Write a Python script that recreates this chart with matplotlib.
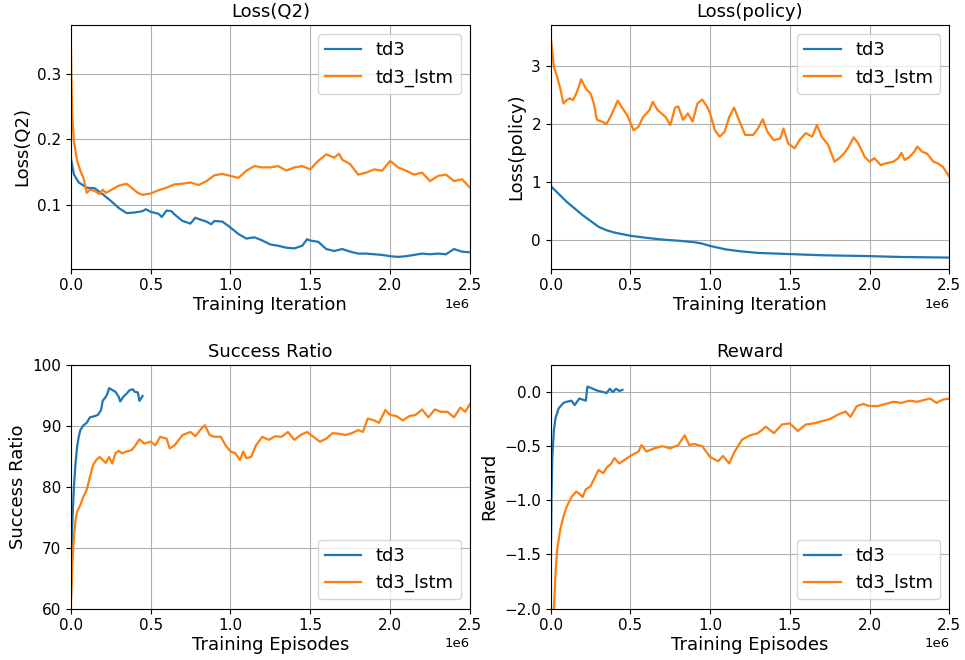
import numpy as np
import matplotlib
matplotlib.use("Agg")
import matplotlib.pyplot as plt

# x values are in millions of steps / episodes

# Loss(Q2)
q2_td3_x = [0, 0.02, 0.05, 0.1, 0.15, 0.2, 0.25, 0.3, 0.35, 0.4, 0.45, 0.47, 0.5, 0.55, 0.57,
            0.6, 0.63, 0.65, 0.7, 0.75, 0.78, 0.8, 0.85, 0.88, 0.9, 0.95, 1.0, 1.05, 1.1, 1.15,
            1.2, 1.25, 1.3, 1.35, 1.4, 1.45, 1.48, 1.5, 1.55, 1.6, 1.65, 1.7, 1.75, 1.8, 1.85,
            1.9, 1.95, 2.0, 2.05, 2.1, 2.15, 2.2, 2.25, 2.3, 2.35, 2.4, 2.45, 2.5]
q2_td3_y = [0.172, 0.146, 0.134, 0.126, 0.125, 0.116, 0.106, 0.095, 0.087, 0.088, 0.090, 0.093,
            0.089, 0.086, 0.081, 0.091, 0.090, 0.085, 0.075, 0.071, 0.080, 0.078, 0.074, 0.070,
            0.075, 0.074, 0.065, 0.055, 0.048, 0.050, 0.045, 0.039, 0.037, 0.034, 0.033, 0.037,
            0.047, 0.045, 0.043, 0.032, 0.029, 0.032, 0.028, 0.025, 0.025, 0.024, 0.023, 0.021,
            0.020, 0.021, 0.023, 0.025, 0.024, 0.025, 0.024, 0.032, 0.028, 0.027]
q2_lstm_x = [0, 0.005, 0.01, 0.02, 0.04, 0.06, 0.08, 0.1, 0.12, 0.15, 0.18, 0.2, 0.22, 0.25,
             0.3, 0.35, 0.38, 0.42, 0.45, 0.5, 0.55, 0.6, 0.65, 0.7, 0.75, 0.8, 0.85, 0.9, 0.95,
             1.0, 1.05, 1.1, 1.15, 1.2, 1.25, 1.3, 1.35, 1.4, 1.45, 1.5, 1.55, 1.6, 1.65, 1.68,
             1.7, 1.75, 1.8, 1.85, 1.9, 1.95, 2.0, 2.05, 2.1, 2.15, 2.2, 2.25, 2.3, 2.35, 2.4,
             2.45, 2.5]
q2_lstm_y = [0.358, 0.284, 0.233, 0.197, 0.167, 0.152, 0.141, 0.118, 0.123, 0.121, 0.116, 0.123,
             0.118, 0.122, 0.129, 0.132, 0.126, 0.118, 0.115, 0.117, 0.122, 0.126, 0.131, 0.132,
             0.134, 0.130, 0.136, 0.145, 0.147, 0.144, 0.141, 0.152, 0.159, 0.157, 0.157, 0.159,
             0.152, 0.157, 0.159, 0.154, 0.167, 0.177, 0.172, 0.178, 0.169, 0.162, 0.146, 0.149,
             0.154, 0.152, 0.167, 0.157, 0.152, 0.146, 0.149, 0.136, 0.144, 0.146, 0.136, 0.139,
             0.126]

# Loss(policy)
pol_td3_x = [0, 0.1, 0.2, 0.3, 0.35, 0.4, 0.5, 0.6, 0.7, 0.8, 0.9, 0.95, 1.0, 1.1, 1.2, 1.3,
             1.5, 1.7, 2.0, 2.2, 2.5]
pol_td3_y = [0.93, 0.66, 0.43, 0.23, 0.17, 0.13, 0.075, 0.04, 0.01, -0.01, -0.035, -0.06, -0.10,
             -0.16, -0.195, -0.22, -0.24, -0.26, -0.275, -0.29, -0.30]
pol_lstm_x = [0, 0.02, 0.04, 0.06, 0.08, 0.1, 0.12, 0.14, 0.16, 0.18, 0.19, 0.22, 0.25, 0.27,
              0.29, 0.32, 0.35, 0.38, 0.42, 0.45, 0.48, 0.52, 0.55, 0.58, 0.62, 0.64, 0.67, 0.72,
              0.75, 0.78, 0.8, 0.83, 0.86, 0.89, 0.92, 0.95, 0.98, 1.0, 1.03, 1.06, 1.09, 1.12,
              1.15, 1.18, 1.22, 1.27, 1.3, 1.33, 1.36, 1.4, 1.44, 1.46, 1.49, 1.53, 1.56, 1.6,
              1.64, 1.67, 1.7, 1.74, 1.78, 1.81, 1.84, 1.87, 1.9, 1.93, 1.97, 2.0, 2.03, 2.07,
              2.1, 2.15, 2.18, 2.2, 2.22, 2.25, 2.28, 2.3, 2.33, 2.36, 2.4, 2.43, 2.46, 2.48, 2.5]
pol_lstm_y = [3.50, 2.98, 2.81, 2.61, 2.35, 2.41, 2.44, 2.41, 2.52, 2.67, 2.77, 2.61, 2.52, 2.35,
              2.07, 2.04, 2.00, 2.15, 2.40, 2.27, 2.15, 1.89, 1.95, 2.12, 2.24, 2.38, 2.24, 2.12,
              1.98, 2.28, 2.30, 2.07, 2.18, 2.04, 2.35, 2.42, 2.30, 2.18, 1.89, 1.78, 1.86, 2.12,
              2.28, 2.07, 1.81, 1.81, 1.92, 2.08, 1.86, 1.72, 1.75, 1.92, 1.66, 1.58, 1.72, 1.84,
              1.78, 1.98, 1.78, 1.64, 1.35, 1.41, 1.49, 1.61, 1.77, 1.66, 1.43, 1.35, 1.41, 1.29,
              1.32, 1.35, 1.41, 1.50, 1.38, 1.43, 1.52, 1.61, 1.52, 1.49, 1.35, 1.32, 1.26, 1.18,
              1.09]

# Success Ratio
suc_td3_x = [0, 0.005, 0.01, 0.02, 0.03, 0.04, 0.05, 0.06, 0.08, 0.1, 0.12, 0.15, 0.17, 0.19,
             0.2, 0.22, 0.23, 0.24, 0.26, 0.28, 0.3, 0.31, 0.33, 0.35, 0.37, 0.39, 0.4, 0.42,
             0.43, 0.45]
suc_td3_y = [60.0, 67.4, 74.0, 80.0, 83.8, 86.6, 88.2, 89.3, 90.1, 90.5, 91.4, 91.6, 91.8, 92.6,
             94.1, 94.8, 95.3, 96.2, 95.9, 95.6, 94.8, 94.0, 94.8, 95.3, 95.9, 96.0, 95.6, 95.5,
             94.1, 94.9]
suc_lstm_x = [0, 0.01, 0.02, 0.03, 0.04, 0.06, 0.08, 0.1, 0.12, 0.14, 0.16, 0.18, 0.2, 0.22,
              0.24, 0.26, 0.28, 0.3, 0.32, 0.35, 0.38, 0.4, 0.43, 0.46, 0.5, 0.53, 0.56, 0.6,
              0.62, 0.65, 0.7, 0.75, 0.78, 0.82, 0.84, 0.87, 0.9, 0.94, 0.97, 1.0, 1.03, 1.06,
              1.08, 1.1, 1.13, 1.16, 1.2, 1.24, 1.28, 1.32, 1.36, 1.4, 1.44, 1.48, 1.52, 1.56,
              1.6, 1.64, 1.68, 1.72, 1.76, 1.8, 1.83, 1.86, 1.9, 1.93, 1.97, 2.0, 2.04, 2.08,
              2.12, 2.16, 2.2, 2.24, 2.28, 2.32, 2.36, 2.4, 2.44, 2.47, 2.5]
suc_lstm_y = [60.0, 67.4, 71.8, 74.5, 75.9, 77.0, 78.4, 79.5, 81.6, 83.6, 84.4, 84.9, 84.4, 83.9,
              84.9, 83.8, 85.5, 85.9, 85.5, 85.8, 86.0, 86.6, 87.8, 87.1, 87.4, 86.8, 88.2, 87.9,
              86.3, 86.8, 88.5, 89.0, 88.3, 89.6, 90.1, 88.5, 88.2, 88.2, 86.8, 85.8, 85.5, 84.4,
              85.8, 84.7, 84.9, 86.8, 88.2, 87.7, 88.3, 88.2, 89.0, 87.7, 88.5, 89.0, 88.2, 87.4,
              87.9, 88.8, 88.7, 88.5, 88.8, 89.3, 89.0, 91.2, 90.9, 90.5, 92.6, 91.8, 91.6, 90.9,
              91.6, 91.8, 92.7, 91.4, 92.7, 92.3, 92.3, 91.4, 93.0, 92.3, 93.6]

# Reward
rew_td3_x = [0, 0.005, 0.01, 0.02, 0.03, 0.05, 0.08, 0.1, 0.13, 0.15, 0.18, 0.2, 0.22, 0.23,
             0.25, 0.28, 0.3, 0.33, 0.35, 0.37, 0.39, 0.41, 0.43, 0.45]
rew_td3_y = [-1.58, -0.97, -0.60, -0.35, -0.24, -0.15, -0.10, -0.09, -0.08, -0.12, -0.06, -0.07,
             -0.08, 0.05, 0.04, 0.02, 0.01, 0.0, -0.01, 0.03, 0.0, 0.03, 0.01, 0.02]
rew_lstm_x = [0.012, 0.02, 0.03, 0.04, 0.06, 0.08, 0.1, 0.13, 0.16, 0.18, 0.2, 0.22, 0.25, 0.28,
              0.3, 0.33, 0.35, 0.38, 0.4, 0.43, 0.46, 0.5, 0.55, 0.57, 0.6, 0.65, 0.7, 0.75,
              0.8, 0.84, 0.87, 0.9, 0.95, 1.0, 1.05, 1.08, 1.12, 1.15, 1.2, 1.25, 1.3, 1.35,
              1.4, 1.45, 1.5, 1.55, 1.6, 1.65, 1.7, 1.75, 1.8, 1.85, 1.88, 1.92, 1.96, 2.0,
              2.05, 2.1, 2.15, 2.2, 2.25, 2.3, 2.35, 2.38, 2.42, 2.46, 2.5]
rew_lstm_y = [-2.3, -2.0, -1.68, -1.46, -1.27, -1.15, -1.06, -0.97, -0.92, -0.94, -0.97, -0.90,
              -0.87, -0.78, -0.72, -0.75, -0.70, -0.66, -0.61, -0.66, -0.63, -0.59, -0.55, -0.49,
              -0.55, -0.52, -0.50, -0.52, -0.49, -0.40, -0.49, -0.48, -0.50, -0.60, -0.64, -0.59,
              -0.66, -0.56, -0.44, -0.40, -0.38, -0.32, -0.38, -0.30, -0.29, -0.36, -0.30, -0.29,
              -0.27, -0.25, -0.21, -0.18, -0.23, -0.13, -0.11, -0.13, -0.13, -0.11, -0.09, -0.10,
              -0.08, -0.09, -0.07, -0.06, -0.10, -0.07, -0.06]


def draw(ax, td3_x, td3_y, lstm_x, lstm_y, title, xlabel, ylabel, ylim, legend_loc):
    ax.plot(np.array(td3_x) * 1e6, td3_y, label="td3", color="#1f77b4", lw=1.6)
    ax.plot(np.array(lstm_x) * 1e6, lstm_y, label="td3_lstm", color="#ff7f0e", lw=1.6)
    ax.set_xlim(0, 2.5e6)
    ax.set_ylim(*ylim)
    ax.set_title(title, fontsize=13)
    ax.set_xlabel(xlabel, fontsize=13, labelpad=2)
    ax.set_ylabel(ylabel, fontsize=13)
    ax.tick_params(labelsize=11)
    ax.xaxis.get_offset_text().set_fontsize(9.5)
    ax.grid(True)
    ax.legend(loc=legend_loc, fontsize=13)


fig = plt.figure(figsize=(9.65, 6.6), dpi=100)
ax1 = fig.add_axes([0.0733, 0.593, 0.4137, 0.369])
ax2 = fig.add_axes([0.5707, 0.593, 0.413, 0.369])
ax3 = fig.add_axes([0.0733, 0.078, 0.4137, 0.369])
ax4 = fig.add_axes([0.5707, 0.078, 0.413, 0.369])

draw(ax1, q2_td3_x, q2_td3_y, q2_lstm_x, q2_lstm_y,
     "Loss(Q2)", "Training Iteration", "Loss(Q2)", (0.002, 0.375), "upper right")
draw(ax2, pol_td3_x, pol_td3_y, pol_lstm_x, pol_lstm_y,
     "Loss(policy)", "Training Iteration", "Loss(policy)", (-0.49, 3.70), "upper right")
draw(ax3, suc_td3_x, suc_td3_y, suc_lstm_x, suc_lstm_y,
     "Success Ratio", "Training Episodes", "Success Ratio", (60, 100), "lower right")
draw(ax4, rew_td3_x, rew_td3_y, rew_lstm_x, rew_lstm_y,
     "Reward", "Training Episodes", "Reward", (-2.0, 0.25), "lower right")

fig.savefig("out.png", dpi=100)
